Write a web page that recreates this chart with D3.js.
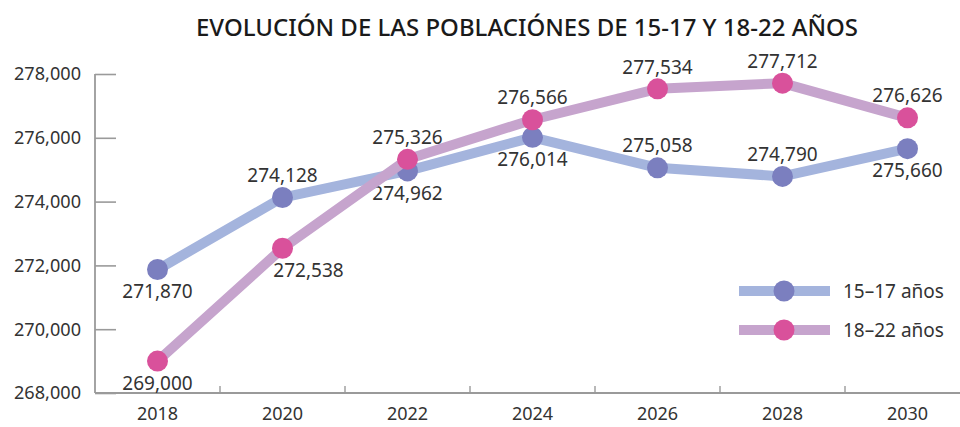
<!DOCTYPE html>
<html><head><meta charset="utf-8">
<script src="https://cdn.jsdelivr.net/npm/d3@7"></script>
<style>body{margin:0;background:#fff}svg{display:block}</style>
</head><body><svg id="c" width="960" height="427"></svg>
<script>
const title = "EVOLUCIÓN DE LAS POBLACIÓNES DE 15-17 Y 18-22 AÑOS";
const years = ["2018","2020","2022","2024","2026","2028","2030"];
const pop1517 = [271870, 274128, 274962, 276014, 275058, 274790, 275660];
const pop1822 = [269000, 272538, 275326, 276566, 277534, 277712, 276626];
const yTicks = [268000, 270000, 272000, 274000, 276000, 278000];
const seriesNames = ["15–17 años", "18–22 años"];
// label placement: 1 = above, -1 = below
const pos1517 = [-1, 1, -1, -1, 1, 1, -1];
const pos1822 = [-1, -1, 1, 1, 1, 1, 1];

const svg = d3.select("#c");
const font = "'Noto Sans', sans-serif";
const x = d3.scaleBand().domain(years).range([95, 970]);
const y = d3.scaleLinear().domain([268000, 278000]).range([393, 74]);
const fmt = d3.format(",");

svg.append("text").attr("x", 527).attr("y", 36).attr("text-anchor", "middle")
  .attr("font-family", font).attr("font-size", 23).attr("font-weight", 500)
  .attr("fill", "#1a1a1a").attr("textLength", 662).attr("lengthAdjust", "spacingAndGlyphs")
  .text(title);

// Y axis
const gy = svg.append("g").attr("transform", "translate(95,0)")
  .call(d3.axisRight(y).tickValues(yTicks).tickSize(21).tickFormat(""));
gy.select(".domain").remove();
gy.selectAll("line").attr("stroke", "#9a9a9a").attr("stroke-width", 1.6);
svg.append("line").attr("x1", 95).attr("x2", 95).attr("y1", 74).attr("y2", 393)
  .attr("stroke", "#9a9a9a").attr("stroke-width", 1.8);
svg.append("g").selectAll("text").data(yTicks).join("text")
  .attr("x", 81).attr("y", d => y(d)).attr("dy", "0.35em").attr("text-anchor", "end")
  .attr("font-family", font).attr("font-size", 18).attr("fill", "#333")
  .attr("textLength", 67).attr("lengthAdjust", "spacingAndGlyphs")
  .text(d => fmt(d));

// X axis
svg.append("line").attr("x1", 95).attr("x2", 960).attr("y1", 393).attr("y2", 393)
  .attr("stroke", "#9a9a9a").attr("stroke-width", 1.8);
svg.append("g").selectAll("line").data(years.slice(1)).join("line")
  .attr("x1", d => x(d)).attr("x2", d => x(d)).attr("y1", 393).attr("y2", 386)
  .attr("stroke", "#9a9a9a").attr("stroke-width", 1.4);
svg.append("g").selectAll("text").data(years).join("text")
  .attr("x", d => x(d) + x.bandwidth() / 2).attr("y", 414).attr("dy", "0.35em")
  .attr("text-anchor", "middle").attr("font-family", font).attr("font-size", 18)
  .attr("fill", "#333").text(d => d);

const cx = d => x(d) + x.bandwidth() / 2;
function drawSeries(vals, lineColor, dotColor, positions, dxs) {
  const line = d3.line().x((d, i) => cx(years[i])).y(d => y(d));
  svg.append("path").datum(vals).attr("d", line).attr("fill", "none")
    .attr("stroke", lineColor).attr("stroke-width", 10).attr("stroke-linejoin", "round");
  svg.append("g").selectAll("circle").data(vals).join("circle")
    .attr("cx", (d, i) => cx(years[i])).attr("cy", d => y(d)).attr("r", 10.5).attr("fill", dotColor);
  svg.append("g").selectAll("text").data(vals).join("text")
    .attr("x", (d, i) => cx(years[i]) + (dxs[i] || 0))
    .attr("y", (d, i) => y(d) - positions[i] * 22).attr("dy", "0.35em")
    .attr("text-anchor", "middle").attr("font-family", font).attr("font-size", 19)
    .attr("fill", "#333").text(d => fmt(d));
}
drawSeries(pop1517, "#a4b4dd", "#7b7fbf", pos1517, [0,0,0,0,0,0,0]);
drawSeries(pop1822, "#c6a4cd", "#d9519b", pos1822, [0,26,0,0,0,0,0]);

// Legend
const legend = [[seriesNames[0], "#a4b4dd", "#7b7fbf", 291], [seriesNames[1], "#c6a4cd", "#d9519b", 330]];
legend.forEach(([name, lc, dc, ly]) => {
  svg.append("line").attr("x1", 739).attr("x2", 830).attr("y1", ly).attr("y2", ly)
    .attr("stroke", lc).attr("stroke-width", 10);
  svg.append("circle").attr("cx", 784).attr("cy", ly).attr("r", 10.5).attr("fill", dc);
  svg.append("text").attr("x", 843).attr("y", ly).attr("dy", "0.35em")
    .attr("font-family", font).attr("font-size", 19).attr("fill", "#333").text(name);
});
</script></body></html>
